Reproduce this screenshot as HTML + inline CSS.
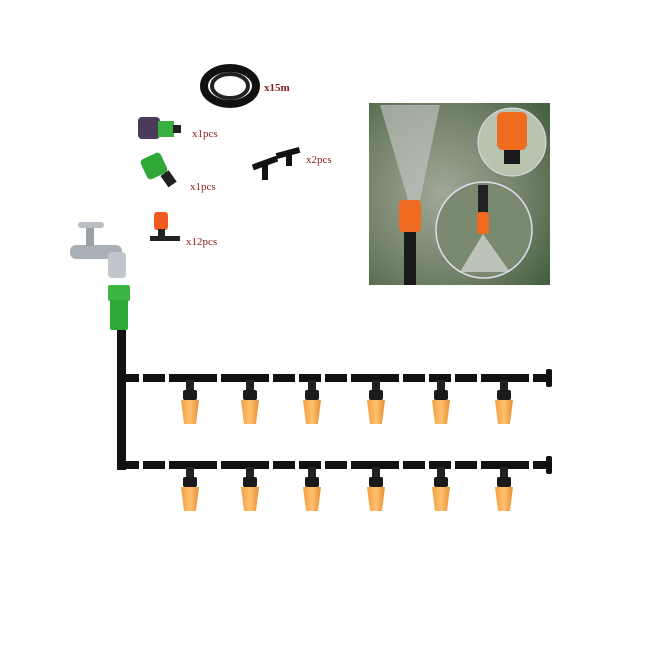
<!DOCTYPE html>
<html><head><style>
html,body{margin:0;padding:0;background:#fff;}
svg{display:block}
text{font-family:"Liberation Serif",serif;fill:#8b1a1a;}
</style></head><body>
<svg width="645" height="645" viewBox="0 0 645 645" xmlns="http://www.w3.org/2000/svg">
<defs>
<linearGradient id="og" x1="0" x2="1"><stop offset="0" stop-color="#f0a040"/><stop offset="0.5" stop-color="#ffc070"/><stop offset="1" stop-color="#e89030"/></linearGradient>
<radialGradient id="bg" cx="0.4" cy="0.5" r="0.8"><stop offset="0" stop-color="#a0a898"/><stop offset="0.6" stop-color="#6f7f66"/><stop offset="1" stop-color="#3f5a3a"/></radialGradient>
<g id="noz">
<rect x="-9" y="-4" width="18" height="8" fill="#111" rx="2"/>
<rect x="-4" y="2" width="8" height="12" fill="#222"/>
<rect x="-7" y="12" width="14" height="10" fill="#1a1a1a" rx="2"/>
<path d="M-9 22 L9 22 L6 46 L-6 46 Z" fill="url(#og)"/>
</g>
</defs>
<ellipse cx="230" cy="86" rx="26" ry="18" fill="none" stroke="#111" stroke-width="8"/>
<ellipse cx="230" cy="86" rx="18" ry="12" fill="none" stroke="#222" stroke-width="4"/>
<text x="264" y="91" font-size="11" font-weight="bold" font-family="Liberation Sans">x15m</text>
<rect x="138" y="117" width="22" height="22" rx="4" fill="#4b3a5a"/>
<rect x="158" y="121" width="16" height="16" fill="#38b040"/>
<rect x="173" y="125" width="8" height="8" fill="#222"/>
<text x="192" y="137" font-size="11">x1pcs</text>
<rect x="143" y="155" width="22" height="22" rx="4" fill="#2fa838" transform="rotate(-25 154 166)"/>
<rect x="163" y="172" width="10" height="14" fill="#222" transform="rotate(-35 168 178)"/>
<text x="190" y="190" font-size="11">x1pcs</text>
<rect x="252" y="160" width="26" height="6" fill="#111" transform="rotate(-20 265 163)"/>
<rect x="262" y="164" width="6" height="16" fill="#111"/>
<rect x="276" y="150" width="24" height="6" fill="#111" transform="rotate(-15 288 153)"/>
<rect x="286" y="152" width="6" height="14" fill="#111"/>
<text x="306" y="163" font-size="11">x2pcs</text>
<rect x="154" y="212" width="14" height="18" rx="3" fill="#f05a20"/>
<rect x="158" y="229" width="7" height="12" fill="#222"/>
<rect x="150" y="236" width="30" height="5" fill="#222"/>
<text x="186" y="245" font-size="11">x12pcs</text>
<rect x="70" y="245" width="52" height="14" rx="6" fill="#aab0b6"/>
<rect x="86" y="226" width="8" height="20" fill="#9aa0a6"/>
<rect x="78" y="222" width="26" height="6" rx="3" fill="#b8bec4"/>
<rect x="108" y="252" width="18" height="26" rx="4" fill="#c0c6cc"/>
<rect x="108" y="285" width="22" height="16" rx="2" fill="#3db542"/>
<rect x="110" y="300" width="18" height="30" rx="2" fill="#2fa838"/>
<rect x="117" y="330" width="9" height="140" fill="#111"/>
<line x1="117" y1="378" x2="550" y2="378" stroke="#111" stroke-width="8" stroke-dasharray="22 4"/>
<rect x="546" y="369" width="6" height="18" rx="2" fill="#111"/>
<line x1="117" y1="465" x2="550" y2="465" stroke="#111" stroke-width="8" stroke-dasharray="22 4"/>
<rect x="546" y="456" width="6" height="18" rx="2" fill="#111"/>
<use href="#noz" x="190" y="378"/><use href="#noz" x="250" y="378"/><use href="#noz" x="312" y="378"/>
<use href="#noz" x="376" y="378"/><use href="#noz" x="441" y="378"/><use href="#noz" x="504" y="378"/>
<use href="#noz" x="190" y="465"/><use href="#noz" x="250" y="465"/><use href="#noz" x="312" y="465"/>
<use href="#noz" x="376" y="465"/><use href="#noz" x="441" y="465"/><use href="#noz" x="504" y="465"/>
<rect x="369" y="103" width="181" height="182" fill="url(#bg)"/>
<path d="M380 105 L440 105 L420 200 L408 200 Z" fill="#c8ccc8" opacity="0.6"/>
<rect x="399" y="200" width="22" height="32" rx="4" fill="#f06a20"/>
<rect x="404" y="232" width="12" height="53" fill="#1a1a1a"/>
<circle cx="512" cy="142" r="34" fill="#b8c4b0" stroke="#dde" stroke-width="1"/>
<rect x="497" y="112" width="30" height="38" rx="6" fill="#f06a20"/>
<rect x="504" y="150" width="16" height="14" fill="#1a1a1a"/>
<circle cx="484" cy="230" r="48" fill="#7a8a70" stroke="#dde" stroke-width="1.5"/>
<rect x="478" y="185" width="10" height="30" fill="#222"/>
<rect x="477" y="212" width="12" height="22" rx="3" fill="#f06a20"/>
<path d="M483 234 L460 272 L510 272 Z" fill="#d8dcd8" opacity="0.7"/>
</svg>
</body></html>
